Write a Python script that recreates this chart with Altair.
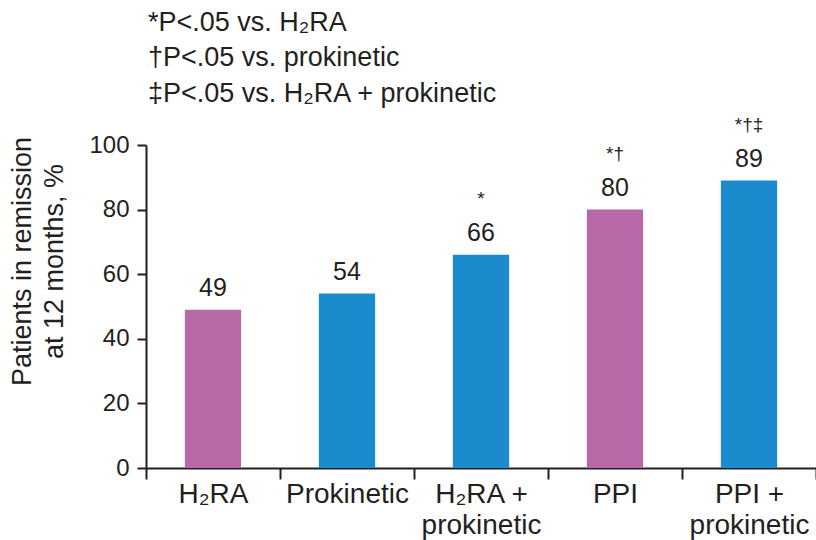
import altair as alt
import pandas as pd

categories = ["H₂RA", "Prokinetic", "H₂RA +\nprokinetic", "PPI", "PPI +\nprokinetic"]
values = [49, 54, 66, 80, 89]
stars = ["", "", "*", "*†", "*†‡"]
groups = ["H2RA/PPI", "Prokinetic", "Prokinetic", "H2RA/PPI", "Prokinetic"]
footnotes = ["*P<.05 vs. H₂RA", "†P<.05 vs. prokinetic", "‡P<.05 vs. H₂RA + prokinetic"]

df = pd.DataFrame({"cat": categories, "val": values, "star": stars, "grp": groups})

FONT = "Liberation Sans"
INK = "#231f20"

x = alt.X("cat:N", sort=categories,
          scale=alt.Scale(paddingInner=0, paddingOuter=0),
          axis=alt.Axis(title=None, labelAngle=0, labelFontSize=28, labelFont=FONT,
                        labelColor=INK, labelPadding=1, labelLineHeight=31,
                        labelExpr="split(datum.label, '\\n')", tickBand="extent",
                        tickSize=11, tickWidth=2, tickColor=INK,
                        domainColor=INK, domainWidth=2))
y = alt.Y("val:Q", scale=alt.Scale(domain=[0, 100]),
          axis=alt.Axis(title=["Patients in remission", "at 12 months, %"],
                        titleFontSize=27, titleFont=FONT, titleFontWeight="normal",
                        titleColor=INK, titlePadding=20, titleLineHeight=32,
                        titleY=116,
                        values=[0, 20, 40, 60, 80, 100], labelFontSize=24, labelFont=FONT,
                        labelColor=INK, labelPadding=8, tickSize=9, tickWidth=2,
                        tickColor=INK, domainColor=INK, domainWidth=2,
                        grid=False))

base = alt.Chart(df).encode(x=x, y=y)

bars = base.mark_bar(width=alt.RelativeBandSize(0.42)).encode(
    color=alt.Color("grp:N", scale=alt.Scale(domain=["H2RA/PPI", "Prokinetic"],
                                             range=["#B768A6", "#1B8BCE"]), legend=None)
)
labels = base.mark_text(baseline="alphabetic", dy=-14, fontSize=25, font=FONT,
                        color=INK).encode(text="val:Q")
starlabels = base.mark_text(baseline="alphabetic", dy=-50, fontSize=19, font=FONT,
                            color=INK).encode(text="star:N")

chart = alt.layer(bars, labels, starlabels).properties(
    width=670, height=323,
    autosize="none",
    padding={"left": 146, "top": 145, "right": 0, "bottom": 72},
    title=alt.TitleParams(footnotes, anchor="start", fontSize=27, font=FONT,
                          fontWeight="normal", color=INK, lineHeight=35.5,
                          frame="group", baseline="alphabetic",
                          offset=42, dx=2, dy=55),
).configure_view(stroke=None)

chart.save("out.html", embed_options={"renderer": "svg", "actions": False})
